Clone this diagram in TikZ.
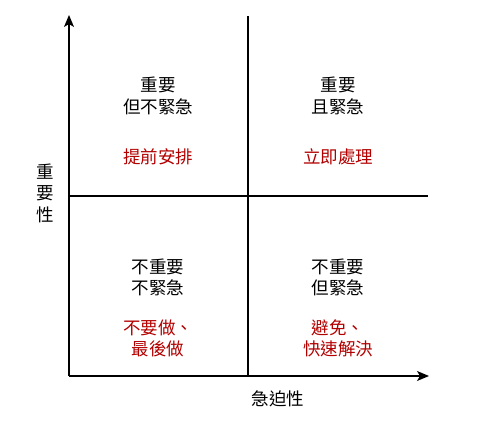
\documentclass[tikz,border=0pt]{standalone}
\usepackage{fontspec}
\newfontfamily\cjk{Noto Sans CJK TC}
\usetikzlibrary{arrows.meta}
\definecolor{actred}{RGB}{178,0,0}

\begin{document}
\begin{tikzpicture}[x=1pt,y=1pt,
	axis/.style={line width=1.3pt,-{Stealth[length=12pt,width=10pt,inset=3pt]}},
	divider/.style={line width=1.1pt},
	quad/.style={align=center,inner sep=0pt,font=\cjk\fontsize{17.5}{21.5}\selectfont},
	act/.style={quad,text=actred}]
	\useasboundingbox (0,0) rectangle (487,431);

	\coordinate (o) at (69,55);
	\coordinate (ytop) at (69,416);
	\coordinate (xend) at (429,55);
	\coordinate (vbot) at (248,55);
	\coordinate (vtop) at (248,415);
	\coordinate (hleft) at (69,235);
	\coordinate (hright) at (428,235);

	\draw[divider] (vbot) -- (vtop);
	\draw[divider] (hleft) -- (hright);
	\draw[axis] (o) -- (ytop);
	\draw[axis] (o) -- (xend);

	\node[quad] (tl) at (158,335) {重要\\但不緊急};
	\node[act] (tlact) at (158,274) {提前安排};
	\node[quad] (tr) at (338,335) {重要\\且緊急};
	\node[act] (tract) at (338,274) {立即處理};

	\node[quad] (bl) at (158,153.5) {不重要\\不緊急};
	\node[act] (blact) at (158,92.5) {不要做、\\最後做};
	\node[quad] (br) at (338,153.5) {不重要\\但緊急};
	\node[act] (bract) at (338,92.5) {避免、\\快速解決};

	\node[quad] (ylab) at (45,238) {重\\要\\性};
	\node[quad] (xlab) at (278,32) {急迫性};

\end{tikzpicture}
\end{document}
